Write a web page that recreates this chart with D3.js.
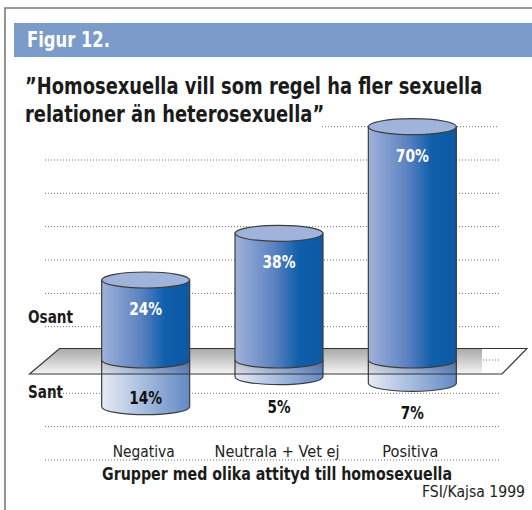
<!DOCTYPE html>
<html>
<head>
<meta charset="utf-8">
<script src="https://cdn.jsdelivr.net/npm/d3@7"></script>
<style>
  body { margin: 0; background: #fff; }
  svg { display: block; font-family: "DejaVu Sans Condensed", "DejaVu Sans", sans-serif; font-stretch: condensed; }
</style>
</head>
<body>
<svg id="chart"></svg>
<script>
const categories = ["Negativa", "Neutrala + Vet ej", "Positiva"];
const osantValues = [24, 38, 70];
const santValues = [14, 5, 7];
const gridTicks = [70, 60, 50, 40, 30, 20, 10, 0, -10, -20, -30];
const titleLines = ["\u201dHomosexuella vill som regel ha fler sexuella", "relationer \u00e4n heterosexuella\u201d"];

document.addEventListener("DOMContentLoaded", function () {
  const w = 532;
  const h = 510;

  const svg = d3.select("#chart").attr("width", w).attr("height", h);

  const xScale = d3.scaleBand().domain(categories).range([79, 479]).paddingInner(0.34).paddingOuter(0.17);
  const yScale = d3.scaleLinear().domain([-30, 70]).range([460, 126.67]);

  const rx = xScale.bandwidth() / 2;
  const ry = 8;
  const y0 = yScale(0);

  const defs = svg.append("defs");

  const topGrad = defs.append("linearGradient").attr("id", "blue-top").attr("x1", "0%").attr("x2", "100%");
  topGrad.append("stop").attr("offset", "0%").attr("stop-color", "#9fb2da");
  topGrad.append("stop").attr("offset", "45%").attr("stop-color", "#5b81c1");
  topGrad.append("stop").attr("offset", "72%").attr("stop-color", "#0f5fab");
  topGrad.append("stop").attr("offset", "100%").attr("stop-color", "#0c58a3");

  const lowGrad = defs.append("linearGradient").attr("id", "blue-low").attr("x1", "0%").attr("x2", "100%");
  lowGrad.append("stop").attr("offset", "0%").attr("stop-color", "#e6ebf6");
  lowGrad.append("stop").attr("offset", "100%").attr("stop-color", "#6389c5");

  const planeGrad = defs.append("linearGradient").attr("id", "plane").attr("x1", "0%").attr("x2", "0%").attr("y1", "0%").attr("y2", "100%");
  planeGrad.append("stop").attr("offset", "0%").attr("stop-color", "#000").attr("stop-opacity", 0.34);
  planeGrad.append("stop").attr("offset", "100%").attr("stop-color", "#000").attr("stop-opacity", 0.04);

  // frame + header
  svg.append("path").attr("d", `M5,${h} L5,8 L${w},8`).attr("fill", "none").attr("stroke", "#7a7a7a").attr("stroke-width", 1.6);
  svg.append("rect").attr("x", 14).attr("y", 23).attr("width", w - 14).attr("height", 34).attr("fill", "#7b9bcb");
  svg
    .append("text")
    .attr("x", 27)
    .attr("y", 46.7)
    .attr("fill", "#fff")
    .attr("font-weight", "bold")
    .attr("font-size", 20.5)
    .attr("textLength", 83)
    .attr("lengthAdjust", "spacingAndGlyphs")
    .text("Figur 12.");

  // grid lines
  svg
    .selectAll(".grid")
    .data(gridTicks)
    .enter()
    .append("line")
    .attr("class", "grid")
    .attr("x1", (d) => (d === 0 ? 483 : d === 70 ? 322 : 45))
    .attr("x2", 499)
    .attr("y1", (d) => yScale(d))
    .attr("y2", (d) => yScale(d))
    .attr("stroke", "#6a6a6a")
    .attr("stroke-width", 1)
    .attr("stroke-dasharray", "1,2");

  // title, stretched upward to mimic the narrow original face
  svg
    .selectAll(".title")
    .data(titleLines)
    .enter()
    .append("text")
    .attr("class", "title")
    .attr("transform", (d, i) => `translate(25,${94.3 + i * 27.4}) scale(1,1.15)`)
    .attr("font-size", 19.9)
    .attr("font-weight", "bold")
    .attr("fill", "#1b1b1b")
    .text((d) => d);

  function cylinderPath(x0, yTop, yBot) {
    const x1 = x0 + 2 * rx;
    return `M${x0},${yTop} L${x0},${yBot} A${rx},${ry} 0 0 0 ${x1},${yBot} L${x1},${yTop} Z`;
  }

  // lower (Sant) cylinders, under the plane
  svg
    .selectAll(".low")
    .data(santValues)
    .enter()
    .append("path")
    .attr("class", "low")
    .attr("d", (d, i) => cylinderPath(xScale(categories[i]), y0, yScale(-d)))
    .attr("fill", "url(#blue-low)")
    .attr("stroke", "#3d3d3d")
    .attr("stroke-width", 1.2);

  // plane
  const pTop = y0 - 11.5;
  const pBot = y0 + 14;
  svg
    .append("path")
    .attr("d", `M59.5,${pTop} L482,${pTop} L482,${pBot} L29.5,${pBot} Z`)
    .attr("fill", "url(#plane)");
  svg
    .append("path")
    .attr("d", `M59.5,${pTop} L527,${pTop} L502,${pBot} L29.5,${pBot} Z`)
    .attr("fill", "none")
    .attr("stroke", "#333")
    .attr("stroke-width", 1.1);

  // upper (Osant) cylinders
  svg
    .selectAll(".up")
    .data(osantValues)
    .enter()
    .append("path")
    .attr("class", "up")
    .attr("d", (d, i) => cylinderPath(xScale(categories[i]), yScale(d), y0))
    .attr("fill", "url(#blue-top)")
    .attr("stroke", "#3d3d3d")
    .attr("stroke-width", 1.2);

  svg
    .selectAll(".cap")
    .data(osantValues)
    .enter()
    .append("ellipse")
    .attr("class", "cap")
    .attr("cx", (d, i) => xScale(categories[i]) + rx)
    .attr("cy", (d) => yScale(d))
    .attr("rx", rx)
    .attr("ry", ry)
    .attr("fill", "#a0b3db")
    .attr("stroke", "#3d3d3d")
    .attr("stroke-width", 1.2);

  // value labels
  svg
    .selectAll(".up-label")
    .data(osantValues)
    .enter()
    .append("text")
    .attr("class", "up-label")
    .attr("x", (d, i) => xScale(categories[i]) + rx)
    .attr("y", (d) => yScale(d) + 35)
    .attr("text-anchor", "middle")
    .attr("font-size", 17.5)
    .attr("font-weight", "bold")
    .attr("fill", "#fff")
    .attr("textLength", 33)
    .attr("lengthAdjust", "spacingAndGlyphs")
    .text((d) => d + "%");

  svg
    .selectAll(".low-label")
    .data(santValues)
    .enter()
    .append("text")
    .attr("class", "low-label")
    .attr("x", (d, i) => xScale(categories[i]) + rx)
    .attr("y", (d) => (y0 - yScale(-d) < -40 ? yScale(-d) - 3 : yScale(-d) + 36))
    .attr("text-anchor", "middle")
    .attr("font-size", 17.5)
    .attr("font-weight", "bold")
    .attr("fill", "#111")
    .attr("textLength", (d) => (d >= 10 ? 33 : 23))
    .attr("lengthAdjust", "spacingAndGlyphs")
    .text((d) => d + "%");

  // side labels
  svg.append("text").attr("x", 28).attr("y", 322.5).attr("font-size", 18).attr("font-weight", "bold").attr("fill", "#1b1b1b")
    .attr("textLength", 45).attr("lengthAdjust", "spacingAndGlyphs").text("Osant");
  svg.append("text").attr("x", 28).attr("y", 398).attr("font-size", 18).attr("font-weight", "bold").attr("fill", "#1b1b1b")
    .attr("textLength", 35).attr("lengthAdjust", "spacingAndGlyphs").text("Sant");

  // category axis
  const catWidths = [62, 125, 56];
  svg
    .selectAll(".cat")
    .data(categories)
    .enter()
    .append("text")
    .attr("class", "cat")
    .attr("x", (d) => xScale(d) + rx - 2)
    .attr("y", 456.7)
    .attr("text-anchor", "middle")
    .attr("font-size", 16.5)
    .attr("fill", "#222")
    .attr("textLength", (d, i) => catWidths[i])
    .attr("lengthAdjust", "spacingAndGlyphs")
    .text((d) => d);

  svg
    .append("text")
    .attr("x", 277)
    .attr("y", 480)
    .attr("text-anchor", "middle")
    .attr("font-size", 17.5)
    .attr("font-weight", "bold")
    .attr("fill", "#1b1b1b")
    .attr("textLength", 350)
    .attr("lengthAdjust", "spacingAndGlyphs")
    .text("Grupper med olika attityd till homosexuella");

  svg
    .append("text")
    .attr("x", 525)
    .attr("y", 497)
    .attr("text-anchor", "end")
    .attr("font-size", 15.5)
    .attr("fill", "#222")
    .attr("textLength", 103)
    .attr("lengthAdjust", "spacingAndGlyphs")
    .text("FSI/Kajsa 1999");
});
</script>
</body>
</html>
